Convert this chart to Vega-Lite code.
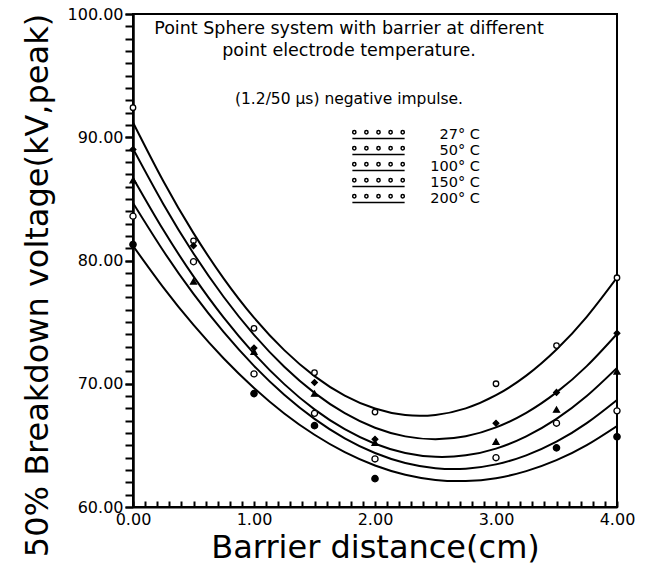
{
  "$schema": "https://vega.github.io/schema/vega-lite/v6.json",
  "width": 484,
  "height": 493,
  "autosize": {"type": "none"},
  "padding": {"left": 133, "top": 14, "right": 29, "bottom": 62},
  "background": "white",
  "config": {"view": {"stroke": "black", "strokeWidth": 2}, "font": "DejaVu Sans"},
  "title": {
    "text": ["Point Sphere system with barrier at different", "point electrode temperature."],
    "subtitle": "(1.2/50 µs) negative impulse.",
    "orient": "top",
    "anchor": "middle",
    "frame": "group",
    "offset": -101,
    "dx": -26,
    "fontSize": 17.5,
    "fontWeight": "normal",
    "color": "black",
    "lineHeight": 22,
    "subtitleFontSize": 15.5,
    "subtitleColor": "black",
    "subtitlePadding": 32,
    "font": "DejaVu Sans",
    "subtitleFont": "DejaVu Sans"
  },
  "datasets": {
    "curves": [
      {"d": 0, "v": 91.2, "t": "27° C"}, {"d": 0.25, "v": 86.45, "t": "27° C"}, {"d": 0.5, "v": 82.22, "t": "27° C"}, {"d": 0.75, "v": 78.53, "t": "27° C"}, {"d": 1, "v": 75.36, "t": "27° C"}, {"d": 1.25, "v": 72.73, "t": "27° C"}, {"d": 1.5, "v": 70.62, "t": "27° C"}, {"d": 1.75, "v": 69.04, "t": "27° C"}, {"d": 2, "v": 67.99, "t": "27° C"}, {"d": 2.25, "v": 67.46, "t": "27° C"}, {"d": 2.5, "v": 67.47, "t": "27° C"}, {"d": 2.75, "v": 68.0, "t": "27° C"}, {"d": 3, "v": 69.07, "t": "27° C"}, {"d": 3.25, "v": 70.66, "t": "27° C"}, {"d": 3.5, "v": 72.78, "t": "27° C"}, {"d": 3.75, "v": 75.43, "t": "27° C"}, {"d": 4, "v": 78.61, "t": "27° C"},
      {"d": 0, "v": 89.07, "t": "50° C"}, {"d": 0.25, "v": 84.59, "t": "50° C"}, {"d": 0.5, "v": 80.57, "t": "50° C"}, {"d": 0.75, "v": 77.04, "t": "50° C"}, {"d": 1, "v": 73.97, "t": "50° C"}, {"d": 1.25, "v": 71.38, "t": "50° C"}, {"d": 1.5, "v": 69.26, "t": "50° C"}, {"d": 1.75, "v": 67.61, "t": "50° C"}, {"d": 2, "v": 66.43, "t": "50° C"}, {"d": 2.25, "v": 65.73, "t": "50° C"}, {"d": 2.5, "v": 65.5, "t": "50° C"}, {"d": 2.75, "v": 65.74, "t": "50° C"}, {"d": 3, "v": 66.46, "t": "50° C"}, {"d": 3.25, "v": 67.64, "t": "50° C"}, {"d": 3.5, "v": 69.3, "t": "50° C"}, {"d": 3.75, "v": 71.43, "t": "50° C"}, {"d": 4, "v": 74.04, "t": "50° C"},
      {"d": 0, "v": 86.7, "t": "100° C"}, {"d": 0.25, "v": 82.49, "t": "100° C"}, {"d": 0.5, "v": 78.71, "t": "100° C"}, {"d": 0.75, "v": 75.36, "t": "100° C"}, {"d": 1, "v": 72.45, "t": "100° C"}, {"d": 1.25, "v": 69.97, "t": "100° C"}, {"d": 1.5, "v": 67.92, "t": "100° C"}, {"d": 1.75, "v": 66.31, "t": "100° C"}, {"d": 2, "v": 65.13, "t": "100° C"}, {"d": 2.25, "v": 64.38, "t": "100° C"}, {"d": 2.5, "v": 64.07, "t": "100° C"}, {"d": 2.75, "v": 64.19, "t": "100° C"}, {"d": 3, "v": 64.74, "t": "100° C"}, {"d": 3.25, "v": 65.73, "t": "100° C"}, {"d": 3.5, "v": 67.15, "t": "100° C"}, {"d": 3.75, "v": 69.0, "t": "100° C"}, {"d": 4, "v": 71.28, "t": "100° C"},
      {"d": 0, "v": 84.67, "t": "150° C"}, {"d": 0.25, "v": 80.79, "t": "150° C"}, {"d": 0.5, "v": 77.29, "t": "150° C"}, {"d": 0.75, "v": 74.18, "t": "150° C"}, {"d": 1, "v": 71.45, "t": "150° C"}, {"d": 1.25, "v": 69.11, "t": "150° C"}, {"d": 1.5, "v": 67.15, "t": "150° C"}, {"d": 1.75, "v": 65.57, "t": "150° C"}, {"d": 2, "v": 64.38, "t": "150° C"}, {"d": 2.25, "v": 63.57, "t": "150° C"}, {"d": 2.5, "v": 63.15, "t": "150° C"}, {"d": 2.75, "v": 63.11, "t": "150° C"}, {"d": 3, "v": 63.46, "t": "150° C"}, {"d": 3.25, "v": 64.19, "t": "150° C"}, {"d": 3.5, "v": 65.3, "t": "150° C"}, {"d": 3.75, "v": 66.8, "t": "150° C"}, {"d": 4, "v": 68.68, "t": "150° C"},
      {"d": 0, "v": 81.19, "t": "200° C"}, {"d": 0.25, "v": 77.82, "t": "200° C"}, {"d": 0.5, "v": 74.77, "t": "200° C"}, {"d": 0.75, "v": 72.05, "t": "200° C"}, {"d": 1, "v": 69.66, "t": "200° C"}, {"d": 1.25, "v": 67.59, "t": "200° C"}, {"d": 1.5, "v": 65.86, "t": "200° C"}, {"d": 1.75, "v": 64.45, "t": "200° C"}, {"d": 2, "v": 63.37, "t": "200° C"}, {"d": 2.25, "v": 62.62, "t": "200° C"}, {"d": 2.5, "v": 62.2, "t": "200° C"}, {"d": 2.75, "v": 62.11, "t": "200° C"}, {"d": 3, "v": 62.34, "t": "200° C"}, {"d": 3.25, "v": 62.91, "t": "200° C"}, {"d": 3.5, "v": 63.8, "t": "200° C"}, {"d": 3.75, "v": 65.02, "t": "200° C"}, {"d": 4, "v": 66.57, "t": "200° C"}
    ],
    "points": [
      {"d": 0, "v": 92.4, "s": "27"}, {"d": 0.5, "v": 81.6, "s": "27"}, {"d": 1, "v": 74.5, "s": "27"}, {"d": 1.5, "v": 70.9, "s": "27"}, {"d": 2, "v": 67.7, "s": "27"}, {"d": 3, "v": 70.0, "s": "27"}, {"d": 3.5, "v": 73.1, "s": "27"}, {"d": 4, "v": 78.6, "s": "27"},
      {"d": 0, "v": 89.0, "s": "50"}, {"d": 0.5, "v": 81.2, "s": "50"}, {"d": 1, "v": 72.9, "s": "50"}, {"d": 1.5, "v": 70.1, "s": "50"}, {"d": 2, "v": 65.5, "s": "50"}, {"d": 3, "v": 66.8, "s": "50"}, {"d": 3.5, "v": 69.3, "s": "50"}, {"d": 4, "v": 74.1, "s": "50"},
      {"d": 0, "v": 86.5, "s": "100"}, {"d": 0.5, "v": 78.3, "s": "100"}, {"d": 1, "v": 72.6, "s": "100"}, {"d": 1.5, "v": 69.2, "s": "100"}, {"d": 2, "v": 65.2, "s": "100"}, {"d": 3, "v": 65.3, "s": "100"}, {"d": 3.5, "v": 67.9, "s": "100"}, {"d": 4, "v": 71.0, "s": "100"},
      {"d": 0, "v": 83.6, "s": "150"}, {"d": 0.5, "v": 79.9, "s": "150"}, {"d": 1, "v": 70.8, "s": "150"}, {"d": 1.5, "v": 67.6, "s": "150"}, {"d": 2, "v": 63.9, "s": "150"}, {"d": 3, "v": 64.0, "s": "150"}, {"d": 3.5, "v": 66.8, "s": "150"}, {"d": 4, "v": 67.8, "s": "150"},
      {"d": 0, "v": 81.3, "s": "200"}, {"d": 1, "v": 69.2, "s": "200"}, {"d": 1.5, "v": 66.6, "s": "200"}, {"d": 2, "v": 62.3, "s": "200"}, {"d": 3.5, "v": 64.8, "s": "200"}, {"d": 4, "v": 65.7, "s": "200"}
    ]
  },
  "resolve": {"axis": {"x": "independent", "y": "independent"}},
  "layer": [
    {
      "data": {"name": "curves"},
      "mark": {"type": "line", "strokeWidth": 2, "interpolate": "natural", "clip": true},
      "encoding": {
        "x": {
          "field": "d", "type": "quantitative",
          "scale": {"domain": [0, 4], "nice": false},
          "axis": {
            "orient": "bottom",
            "values": [0, 1, 2, 3, 4],
            "format": ".2f",
            "grid": false,
            "ticks": false,
            "domainColor": "black",
            "domainWidth": 2,
            "labelFontSize": 16,
            "labelColor": "black",
            "labelPadding": 4,
            "labelFlush": false,
            "labelOverlap": false,
            "title": "Barrier distance(cm)",
            "titleFontSize": 32,
            "titleFontWeight": "normal",
            "titleColor": "black",
            "titlePadding": 5
          }
        },
        "y": {
          "field": "v", "type": "quantitative",
          "scale": {"domain": [60, 100], "nice": false, "zero": false},
          "axis": {
            "orient": "left",
            "values": [60, 70, 80, 90, 100],
            "format": ".2f",
            "grid": false,
            "ticks": true,
            "tickSize": 8,
            "tickWidth": 2,
            "tickColor": "black",
            "domainColor": "black",
            "domainWidth": 2,
            "labelFontSize": 16,
            "labelColor": "black",
            "labelPadding": 2,
            "labelOverlap": false,
            "labelFlush": false,
            "title": "50% Breakdown voltage(kV,peak)",
            "titleFontSize": 32,
            "titleFontWeight": "normal",
            "titleColor": "black",
            "titleX": -96,
            "titleY": 271,
            "titleAngle": -90,
            "titleAlign": "center",
            "titleBaseline": "middle"
          }
        },
        "color": {
          "field": "t", "type": "nominal",
          "scale": {"domain": ["27° C", "50° C", "100° C", "150° C", "200° C"], "range": ["black", "black", "black", "black", "black"]},
          "legend": {
            "orient": "none",
            "legendX": 217,
            "legendY": 113,
            "title": null,
            "symbolType": "M -0.94 -0.1 a 0.06 0.06 0 1 0 0.12 0 a 0.06 0.06 0 1 0 -0.12 0 M -0.5 -0.1 a 0.06 0.06 0 1 0 0.12 0 a 0.06 0.06 0 1 0 -0.12 0 M -0.06 -0.1 a 0.06 0.06 0 1 0 0.12 0 a 0.06 0.06 0 1 0 -0.12 0 M 0.38 -0.1 a 0.06 0.06 0 1 0 0.12 0 a 0.06 0.06 0 1 0 -0.12 0 M 0.82 -0.1 a 0.06 0.06 0 1 0 0.12 0 a 0.06 0.06 0 1 0 -0.12 0 M -0.95 0.13 L 0.95 0.13",
            "symbolSize": 3025,
            "symbolStrokeWidth": 1.5,
            "symbolFillColor": "white",
            "symbolStrokeColor": "black",
            "clipHeight": 16,
            "rowPadding": 0,
            "labelFontSize": 14.5,
            "labelColor": "black",
            "labelAlign": "right",
            "labelOffset": 73
          }
        }
      }
    },
    {
      "data": {"name": "points"},
      "mark": {"type": "point", "stroke": "black", "strokeWidth": 1.3, "opacity": 1, "clip": false},
      "encoding": {
        "x": {
          "field": "d", "type": "quantitative",
          "axis": {
            "orient": "top",
            "offset": -493,
            "values": [0, 0.1, 0.2, 0.3, 0.4, 0.5, 0.6, 0.7, 0.8, 0.9, 1, 1.1, 1.2, 1.3, 1.4, 1.5, 1.6, 1.7, 1.8, 1.9, 2, 2.1, 2.2, 2.3, 2.4, 2.5, 2.6, 2.7, 2.8, 2.9, 3, 3.1, 3.2, 3.3, 3.4, 3.5, 3.6, 3.7, 3.8, 3.9, 4],
            "labels": false,
            "grid": false,
            "title": null,
            "domain": false,
            "ticks": true,
            "tickSize": 6,
            "tickWidth": 2,
            "tickColor": "black"
          }
        },
        "y": {
          "field": "v", "type": "quantitative",
          "axis": {
            "orient": "left",
            "values": [60, 61, 62, 63, 64, 65, 66, 67, 68, 69, 70, 71, 72, 73, 74, 75, 76, 77, 78, 79, 80, 81, 82, 83, 84, 85, 86, 87, 88, 89, 90, 91, 92, 93, 94, 95, 96, 97, 98, 99, 100],
            "labels": false,
            "grid": false,
            "title": null,
            "ticks": true,
            "tickSize": 8,
            "tickWidth": 2,
            "tickColor": "black",
            "domainColor": "black",
            "domainWidth": 2
          }
        },
        "fill": {
          "field": "s", "type": "nominal",
          "scale": {"domain": ["27", "50", "100", "150", "200"], "range": ["white", "black", "black", "white", "black"]},
          "legend": null
        },
        "shape": {
          "field": "s", "type": "nominal",
          "scale": {"domain": ["27", "50", "100", "150", "200"], "range": ["circle", "diamond", "triangle-up", "circle", "circle"]},
          "legend": null
        },
        "size": {
          "field": "s", "type": "ordinal",
          "scale": {"domain": ["27", "50", "100", "150", "200"], "range": [30, 40, 20, 30, 20]},
          "legend": null
        }
      }
    }
  ]
}
